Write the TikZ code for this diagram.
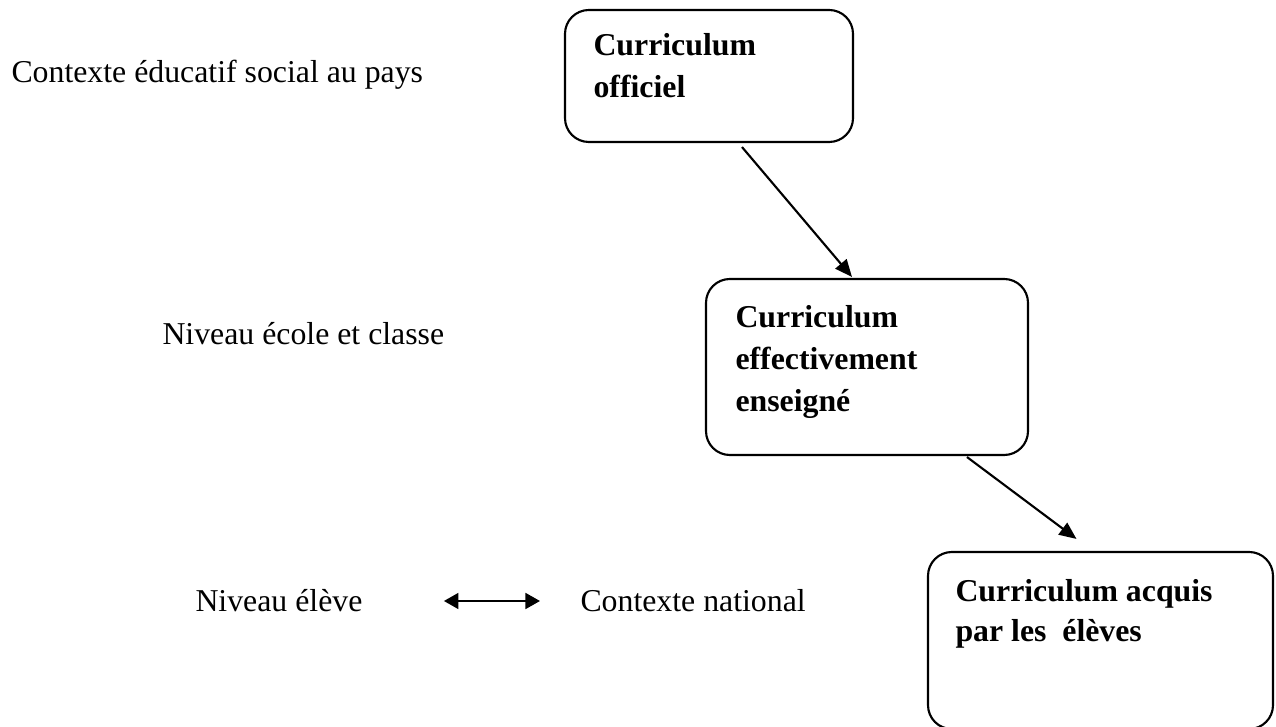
\documentclass[tikz,border=0pt]{standalone}
\usepackage{fontspec}
\setmainfont{Liberation Serif}
\usetikzlibrary{arrows.meta, fit, calc}

\begin{document}
\begin{tikzpicture}[x=0.3774pt, y=-0.3774pt,
  box/.style={draw, line width=0.8pt, rounded corners=9pt, inner sep=0pt},
  boxtext/.style={font=\bfseries\fontsize{12}{16}\selectfont, anchor=base west,
    align=left, inner sep=0pt},
  plain/.style={font=\fontsize{12}{14}\selectfont, anchor=base west, inner sep=0pt},
  arr/.style={line width=0.8pt, -{Triangle[length=6.5pt, width=5.5pt]}},
  dbl/.style={line width=0.8pt, {Triangle[length=5.5pt, width=6pt]}-{Triangle[length=5.5pt, width=6pt]}}]
  \useasboundingbox (0,0) rectangle (1276,727);

  % Left labels
  \node[plain] (ctxsoc) at (11, 83) {Contexte éducatif social au pays};
  \node[plain] (ecole) at (162, 345) {Niveau école et classe};
  \node[plain] (eleve) at (195, 612) {Niveau élève};
  \node[plain] (national) at (580, 612) {Contexte national};

  % Boxes
  \node[box, fit={(565, 10) (853, 142)}] (offi) {};
  \node[box, fit={(706, 279) (1028, 455)}] (ens) {};
  \node[box, fit={(928, 552) (1273, 729)}] (acq) {};

  % Box texts (base = last line)
  \node[boxtext] (offitxt) at (593, 98) {Curriculum\\officiel};
  \node[boxtext] (enstxt) at (735, 412) {Curriculum\\effectivement\\enseigné};
  \node[boxtext, font=\bfseries\fontsize{12}{15}\selectfont] (acqtxt) at (955, 641)
    {Curriculum acquis\\par les~ élèves};

  % Arrows
  \draw[arr] ($(offi.south)+(33, 4)$) -- ($(ens.north)+(-15, -1)$);
  \draw[arr] ($(ens.south)+(100, 1)$) -- ($(acq.north)+(-24, -12)$);
  \draw[dbl] ($(eleve.base east)+(81, -11)$) -- ($(national.base west)+(-40, -11)$);
\end{tikzpicture}
\end{document}
